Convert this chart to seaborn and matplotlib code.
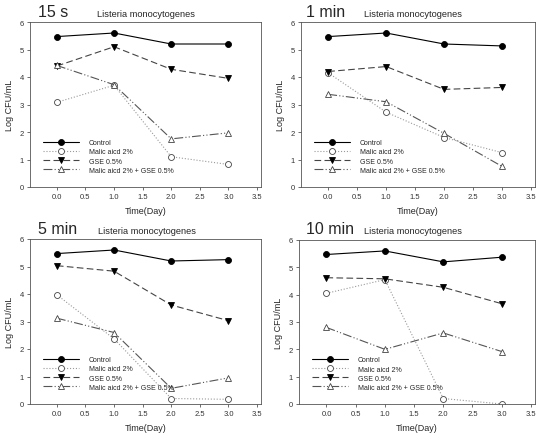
import matplotlib
matplotlib.use("Agg")
import matplotlib.pyplot as plt
import seaborn as sns

sns.set_style("ticks")
plt.rcParams['font.family'] = ['Liberation Sans', 'DejaVu Sans']

days = [0, 1, 2, 3]
series_names = ["Control", "Malic aicd 2%", "GSE 0.5%", "Malic aicd 2% + GSE 0.5%"]
panel_titles = ["15 s", "1 min", "5 min", "10 min"]

# values per panel: control, malic, gse, malic+gse
control_15s = [5.47, 5.60, 5.20, 5.20]
malic_15s = [3.08, 3.70, 1.10, 0.82]
gse_15s = [4.40, 5.10, 4.28, 3.95]
mix_15s = [4.42, 3.72, 1.75, 1.97]

control_1m = [5.47, 5.60, 5.20, 5.13]
malic_1m = [4.15, 2.72, 1.80, 1.25]
gse_1m = [4.20, 4.38, 3.55, 3.62]
mix_1m = [3.37, 3.10, 1.95, 0.75]

control_5m = [5.47, 5.60, 5.20, 5.25]
malic_5m = [3.97, 2.37, 0.20, 0.17]
gse_5m = [5.03, 4.83, 3.60, 3.03]
mix_5m = [3.12, 2.60, 0.57, 0.95]

control_10m = [5.47, 5.60, 5.20, 5.37]
malic_10m = [4.05, 4.55, 0.20, 0.00]
gse_10m = [4.62, 4.58, 4.27, 3.67]
mix_10m = [2.80, 2.00, 2.60, 1.92]

panels = [
    [control_15s, malic_15s, gse_15s, mix_15s],
    [control_1m, malic_1m, gse_1m, mix_1m],
    [control_5m, malic_5m, gse_5m, mix_5m],
    [control_10m, malic_10m, gse_10m, mix_10m],
]

styles = [
    dict(color='black', ls='-', marker='o', mfc='black', mec='black'),
    dict(color='#9a9a9a', ls=':', marker='o', mfc='white', mec='#444444'),
    dict(color='#444444', ls=(0, (6, 3)), marker='v', mfc='black', mec='black'),
    dict(color='#555555', ls=(0, (8, 2, 1, 2, 1, 2)), marker='^', mfc='white', mec='#444444'),
]

W, H = 548, 439
# axes boxes in pixels: left, top, right, bottom
boxes = [(30, 23, 261, 188), (301, 23, 535, 188), (30, 240, 261, 405), (299, 241, 535, 405)]
# title positions in pixels: big title x, subtitle x, baseline y
title_pos = [(38, 97, 17), (306, 364, 17), (38, 98, 234), (306, 364, 234)]

fig = plt.figure(figsize=(5.48, 4.39), dpi=100)
for i, (l, t, r, b) in enumerate(boxes):
    ax = fig.add_axes([l / W, 1 - b / H, (r - l) / W, (b - t) / H])
    for vals, name, st in zip(panels[i], series_names, styles):
        sns.lineplot(x=days, y=vals, ax=ax, label=name, color=st['color'], linestyle=st['ls'],
                     marker=st['marker'], markerfacecolor=st['mfc'], markeredgecolor=st['mec'],
                     markersize=4.3, markeredgewidth=0.6, linewidth=0.8)
    ax.set_xlim(-0.47, 3.57)
    ax.set_ylim(0, 6)
    ax.set_xticks([0, 0.5, 1, 1.5, 2, 2.5, 3, 3.5])
    ax.set_xticklabels(['0.0', '0.5', '1.0', '1.5', '2.0', '2.5', '3.0', '3.5'])
    ax.set_yticks(range(7))
    ax.tick_params(labelsize=5.5, length=2.5, width=0.5, pad=2, colors='#333333')
    for s in ax.spines.values():
        s.set_linewidth(0.6)
        s.set_color('#555555')
    ax.set_xlabel('Time(Day)', fontsize=6.5, labelpad=4)
    ax.set_ylabel('Log CFU/mL', fontsize=6.5, labelpad=4)
    ax.legend(loc='lower left', bbox_to_anchor=(0.04, 0.06), frameon=False, fontsize=5,
              handlelength=5.2, handletextpad=1.4, labelspacing=0.3, borderpad=0)
    tx, sx, ty = title_pos[i]
    fig.text(tx / W, 1 - ty / H, panel_titles[i], fontsize=11.5, va='baseline')
    fig.text(sx / W, 1 - ty / H, 'Listeria monocytogenes', fontsize=6.7, va='baseline')

fig.savefig('out.png', dpi=100)
